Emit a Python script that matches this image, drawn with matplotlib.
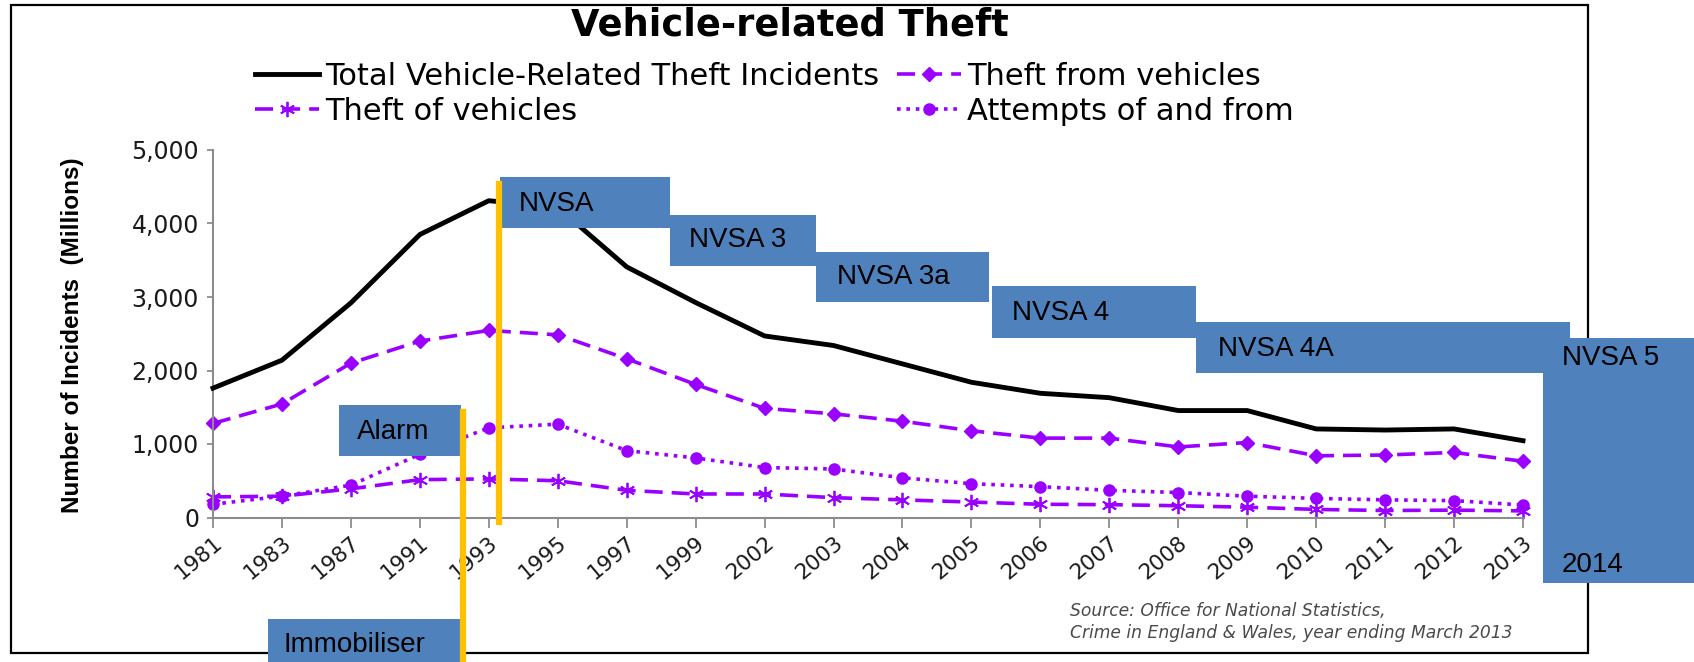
import matplotlib
matplotlib.use('Agg')
import matplotlib.pyplot as plt
from matplotlib import font_manager
from matplotlib.patches import Rectangle
from matplotlib.lines import Line2D

# data (thousands of incidents, labelled "Millions" on the original)
years = ['1981', '1983', '1987', '1991', '1993', '1995', '1997', '1999', '2002', '2003',
         '2004', '2005', '2006', '2007', '2008', '2009', '2010', '2011', '2012', '2013']
total = [1760, 2140, 2920, 3850, 4310, 4220, 3410, 2925, 2470, 2340,
         2090, 1840, 1690, 1630, 1455, 1455, 1205, 1190, 1205, 1045]
theft_from = [1280, 1545, 2100, 2400, 2545, 2485, 2160, 1810, 1485, 1410,
              1310, 1180, 1080, 1080, 960, 1020, 840, 850, 885, 765]
theft_of = [280, 290, 390, 515, 525, 500, 370, 320, 320, 270,
            240, 210, 180, 175, 160, 140, 110, 95, 100, 90]
attempts = [180, 290, 440, 860, 1220, 1270, 910, 810, 680, 660,
            540, 460, 420, 370, 340, 290, 260, 240, 230, 170]

# annotation boxes: label, x0, y0, x1, y1 (pixels from top-left), text x, text y
boxes = [
    ('NVSA', 500, 177, 670, 228, 519, 204),
    ('NVSA 3', 670, 215, 816, 266, 689, 240),
    ('NVSA 3a', 816, 252, 989, 302, 837, 277),
    ('NVSA 4', 992, 286, 1196, 338, 1012, 313),
    ('NVSA 4A', 1196, 322, 1570, 373, 1218, 349),
    ('Alarm', 339, 405, 461, 456, 357, 432),
    ('Immobiliser', 268, 619, 461, 700, 284, 645),
]

W, H = 1694, 662
purple = '#9A00FF'
blue = '#4F81BD'
orange = '#FFC000'


def fx(px):
    return px / W


def fy(py):
    return 1 - py / H


installed = {f.name for f in font_manager.fontManager.ttflist}
if 'Liberation Sans Narrow' in installed:
    ylab_font, ylab_size = 'Liberation Sans Narrow', 22
else:
    ylab_font, ylab_size = 'Liberation Sans', 17.5

fig = plt.figure(figsize=(W / 100, H / 100), dpi=100)
plt.rcParams['font.family'] = ['DejaVu Sans']

ax = fig.add_axes([fx(213), fy(517.5), fx(1523) - fx(213), fy(150) - fy(517.5)])
x = range(len(years))

ax.plot(x, total, color='black', lw=3.5, label='Total Vehicle-Related Theft Incidents',
        clip_on=False, zorder=4)
ax.plot(x, theft_of, color=purple, lw=2.6, dashes=(5, 2.5), marker=(6, 2, 0),
        markersize=11, markeredgewidth=1.3, label='Theft of vehicles', clip_on=False)
ax.plot(x, theft_from, color=purple, lw=2.6, dashes=(5, 2.5), marker='D',
        markersize=7, label='Theft from vehicles', clip_on=False)
ax.plot(x, attempts, color=purple, lw=2.6, linestyle=(0, (1, 1.6)), marker='o',
        markersize=8, label='Attempts of and from', clip_on=False)

ax.set_xlim(0, len(years) - 1)
ax.set_ylim(0, 5000)
ax.set_yticks([0, 1000, 2000, 3000, 4000, 5000])
ax.set_yticklabels(['0', '1,000', '2,000', '3,000', '4,000', '5,000'], fontsize=17, color='#1a1a1a')
ax.set_xticks(list(x))
ax.set_xticklabels(years, rotation=40, ha='right', rotation_mode='anchor', fontsize=15.5, color='#1a1a1a')
for s in ['top', 'right']:
    ax.spines[s].set_visible(False)
for s in ['left', 'bottom']:
    ax.spines[s].set_color('#8c8c8c')
    ax.spines[s].set_linewidth(1.5)
ax.tick_params(axis='x', length=7, color='#8c8c8c', width=1.3, pad=4)
ax.tick_params(axis='y', length=4, color='#8c8c8c', width=1.3, pad=6)

fig.text(fx(72), fy(335), 'Number of Incidents  (Millions)', rotation=90, ha='center', va='center',
         fontsize=ylab_size, fontweight='bold', family=[ylab_font, 'DejaVu Sans'])

fig.text(fx(790), fy(25), 'Vehicle-related Theft', ha='center', va='center',
         fontsize=26.5, fontweight='bold')

handles, labels = ax.get_legend_handles_labels()
fig.legend(handles, labels, ncol=2,
           loc='upper left', bbox_to_anchor=(fx(255), fy(62)), frameon=False,
           fontsize=22, handlelength=2.1, handletextpad=0.18, columnspacing=0.6,
           labelspacing=0.2, borderpad=0, borderaxespad=0)

fig.text(fx(1070), fy(611), 'Source: Office for National Statistics,', fontsize=12.3,
         style='italic', color='#4a4a4a', va='center')
fig.text(fx(1070), fy(633), 'Crime in England & Wales, year ending March 2013', fontsize=12.3,
         style='italic', color='#4a4a4a', va='center')

# outer frame of the pasted chart
fig.add_artist(Rectangle((fx(11), fy(653)), fx(1588) - fx(11), (653 - 5) / H,
                         transform=fig.transFigure, fill=False, edgecolor='black', lw=1.6, zorder=3))

for label, x0, y0, x1, y1, tx, ty in boxes:
    fig.add_artist(Rectangle((fx(x0), fy(y1)), fx(x1) - fx(x0), (y1 - y0) / H,
                             transform=fig.transFigure, facecolor=blue, edgecolor='none', zorder=5))
    fig.text(fx(tx), fy(ty), label, fontsize=20, family='Liberation Sans', va='center', zorder=7)

# NVSA 5 box reaching to the right edge
fig.add_artist(Rectangle((fx(1543), fy(583)), fx(1694) - fx(1543), (583 - 338) / H,
                         transform=fig.transFigure, facecolor=blue, edgecolor='none', zorder=5))
fig.text(fx(1562), fy(358), 'NVSA 5', fontsize=20, family='Liberation Sans', va='center', zorder=7)
fig.text(fx(1562), fy(565), '2014', fontsize=20, family='Liberation Sans', va='center', zorder=7)

fig.add_artist(Line2D([fx(499), fx(499)], [fy(184), fy(522)], transform=fig.transFigure,
                      color=orange, lw=4.5, zorder=6))
fig.add_artist(Line2D([fx(463), fx(463)], [fy(412), fy(662)], transform=fig.transFigure,
                      color=orange, lw=4.5, zorder=6))

fig.savefig('out.png', dpi=100)
